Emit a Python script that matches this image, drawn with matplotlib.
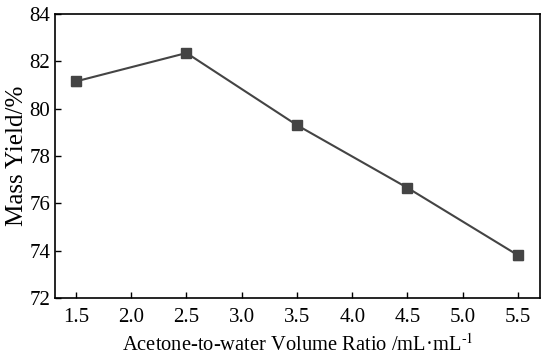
import matplotlib.pyplot as plt

plt.rcParams['font.family'] = ['Liberation Serif', 'DejaVu Serif']
plt.rcParams['mathtext.fontset'] = 'stix'

ratio = [1.5, 2.5, 3.5, 4.5, 5.5]
mass_yield = [81.15, 82.35, 79.3, 76.65, 73.8]
yield_err = [0.18, 0.08, 0.15, 0.18, 0.2]

fig, ax = plt.subplots(figsize=(5.5, 3.58), dpi=100)
fig.subplots_adjust(left=0.1, right=0.982, top=0.961, bottom=0.168)

ax.errorbar(ratio, mass_yield, yerr=yield_err, color='#444444', marker='s',
            markersize=6.5, linewidth=1.5, ecolor='#999999', elinewidth=1,
            capsize=3.5, capthick=1)

ax.set_xlim(1.31, 5.70)
ax.set_ylim(72, 84)
ax.set_xticks([1.5, 2.0, 2.5, 3.0, 3.5, 4.0, 4.5, 5.0, 5.5])
ax.set_yticks([72, 74, 76, 78, 80, 82, 84])
ax.tick_params(direction='in', labelsize=15, length=4, width=1)
ax.tick_params(axis='x', pad=7.5)
for s in ax.spines.values():
    s.set_linewidth(1.2)

ax.set_xlabel('Acetone-to-water Volume Ratio /mL·mL$^{\\text{-1}}$', fontsize=14.8, labelpad=5)
ax.set_ylabel('Mass Yield/%', fontsize=18, labelpad=0.5)

plt.savefig('out.png')
